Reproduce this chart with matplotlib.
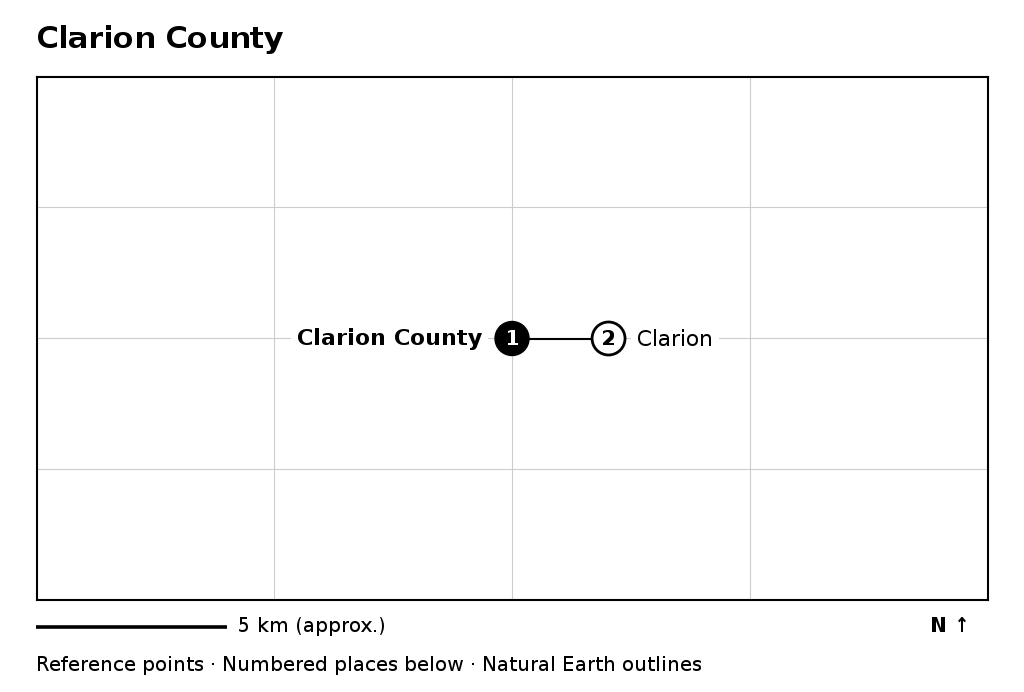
import matplotlib
matplotlib.use('Agg')
import matplotlib.pyplot as plt
from matplotlib.patches import Ellipse

# integer glyph advances give the wider spacing seen in the picture
plt.rcParams['text.hinting'] = 'native'
plt.rcParams['text.hinting_factor'] = 1

W, H = 1024, 692

title = 'Clarion County'
footer = 'Reference points · Numbered places below · Natural Earth outlines'
scale_label = '5 km (approx.)'
north_label = 'N ↑'

# places in map coordinates (axes run 0-1 wide, 0-1 tall, centre is the county)
place_names = ['Clarion County', 'Clarion']
place_x = [0.4995, 0.601]
place_y = [0.5, 0.5]
place_nums = ['1', '2']

grid_x = [0.2495, 0.4995, 0.7495]
grid_y = [0.25, 0.5015, 0.7515]

fig = plt.figure(figsize=(W / 100, H / 100), dpi=100, facecolor='white')

# axes box
left, right, top, bottom = 37, 988, 77, 600
ax = fig.add_axes([left / W, 1 - bottom / H, (right - left) / W, (bottom - top) / H])
ax.set_xlim(0, 1)
ax.set_ylim(0, 1)
ax.set_xticks([])
ax.set_yticks([])
for s in ax.spines.values():
    s.set_linewidth(1.5)
    s.set_color('black')

for g in grid_x:
    ax.axvline(g, color='#cccccc', lw=0.8, zorder=1)
for g in grid_y:
    ax.axhline(g, color='#cccccc', lw=0.8, zorder=1)

ax.plot(place_x, place_y, color='black', lw=1.5, zorder=2)

# keep markers round in pixels
rx = 17 / (right - left)
ry = 17 / (bottom - top)
ax.add_patch(Ellipse((place_x[0], place_y[0]), 2 * rx, 2 * ry, fc='black', ec='black', lw=1, zorder=3))
ax.add_patch(Ellipse((place_x[1], place_y[1]), 2 * rx * 0.97, 2 * ry * 0.97, fc='white', ec='black', lw=2, zorder=3))

ax.text(place_x[0] - 0.0005, place_y[0] - 0.001, place_nums[0], color='white', fontsize=14.4, fontweight='bold',
        ha='center', va='center', zorder=4)
ax.text(place_x[1] - 0.001, place_y[1] - 0.001, place_nums[1], color='black', fontsize=14.4, fontweight='bold',
        ha='center', va='center', zorder=4)

box = dict(fc='white', ec='none', pad=4.5)
ax.text(445 / 951, 0.5, place_names[0], fontsize=15.5, fontweight='bold', ha='right', va='center',
        bbox=box, zorder=2.5)
ax.text((637 - left) / (right - left), 0.498, place_names[1], fontsize=16, ha='left', va='center',
        bbox=box, zorder=2.5)

fig.text(36 / W, 1 - 39 / H, title, fontsize=21.9, fontweight='bold', ha='left', va='center')

fig.add_artist(plt.Line2D([36 / W, 227 / W], [1 - 626.5 / H, 1 - 626.5 / H], color='black', lw=2.6,
                          solid_capstyle='butt'))
fig.text(238 / W, 1 - 626.5 / H, scale_label, fontsize=14.4, ha='left', va='center')
fig.text(971 / W, 1 - 626.5 / H, north_label, fontsize=14.5, fontweight='bold', ha='right', va='center')
fig.text(36 / W, 1 - 665.5 / H, footer, fontsize=14.6, ha='left', va='center')

fig.savefig('out.png', dpi=100)
